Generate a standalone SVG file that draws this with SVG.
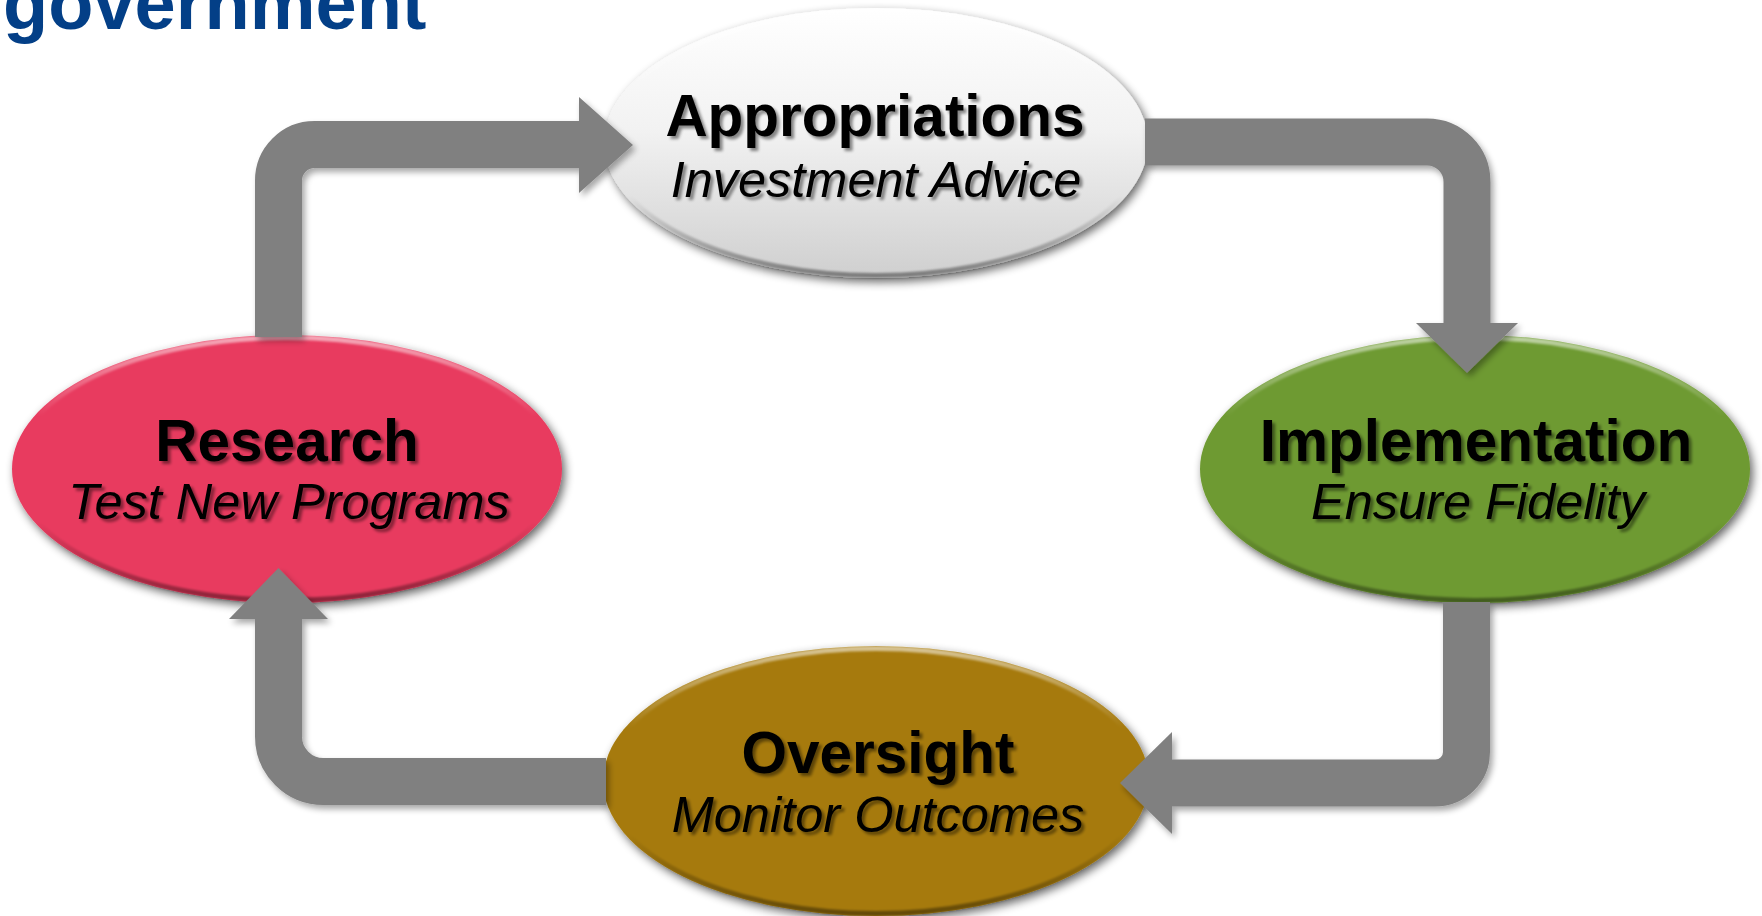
<svg xmlns="http://www.w3.org/2000/svg" width="1762" height="916" viewBox="0 0 1762 916">
<defs>
  <style>
    .title { font-family: "Liberation Sans", Arial, sans-serif; font-weight: bold; font-size: 74px; fill: #033F87; }
    .t1 { font-family: "Liberation Sans", Arial, sans-serif; font-weight: bold; font-size: 58.5px; text-anchor: middle; fill: #000; }
    .t2 { font-family: "Liberation Sans", Arial, sans-serif; font-style: italic; font-size: 50.5px; text-anchor: middle; fill: #000; }
    .bevel { fill: none; stroke: url(#bevelGrad); stroke-width: 5; }
    .shaft { fill: none; stroke: #808080; stroke-width: 47; }
    .head { fill: #808080; stroke: none; }
  </style>
  <linearGradient id="apGrad" x1="0" y1="0" x2="0" y2="1">
    <stop offset="0" stop-color="#ffffff"/>
    <stop offset="0.45" stop-color="#f2f2f2"/>
    <stop offset="1" stop-color="#cfcfcf"/>
  </linearGradient>
  <linearGradient id="bevelGrad" x1="0" y1="0" x2="0" y2="1">
    <stop offset="0" stop-color="#ffffff" stop-opacity="0.55"/>
    <stop offset="0.3" stop-color="#ffffff" stop-opacity="0"/>
    <stop offset="0.7" stop-color="#000000" stop-opacity="0"/>
    <stop offset="1" stop-color="#000000" stop-opacity="0.4"/>
  </linearGradient>
  <filter id="nodeShadow" x="-10%" y="-15%" width="125%" height="135%">
    <feGaussianBlur in="SourceAlpha" stdDeviation="5"/>
    <feOffset dx="3" dy="4"/>
    <feComponentTransfer><feFuncA type="linear" slope="0.6"/></feComponentTransfer>
    <feMerge><feMergeNode/><feMergeNode in="SourceGraphic"/></feMerge>
  </filter>
  <filter id="bevelBlur" x="-5%" y="-5%" width="110%" height="110%">
    <feGaussianBlur stdDeviation="1"/>
  </filter>
  <filter id="txtShadow" x="-5%" y="-30%" width="115%" height="170%">
    <feGaussianBlur in="SourceAlpha" stdDeviation="1.5"/>
    <feOffset dx="3" dy="3"/>
    <feComponentTransfer><feFuncA type="linear" slope="0.45"/></feComponentTransfer>
    <feMerge><feMergeNode/><feMergeNode in="SourceGraphic"/></feMerge>
  </filter>
  <filter id="connShadow" x="-10%" y="-10%" width="125%" height="125%">
    <feGaussianBlur in="SourceAlpha" stdDeviation="3"/>
    <feOffset dx="3" dy="4"/>
    <feComponentTransfer><feFuncA type="linear" slope="0.35"/></feComponentTransfer>
    <feMerge><feMergeNode/><feMergeNode in="SourceGraphic"/></feMerge>
  </filter>
</defs>

<rect width="1762" height="916" fill="#ffffff"/>
<text class="title" x="3" y="29">government</text>

<g id="node-appropriations">
  <ellipse cx="876" cy="143" rx="272" ry="135" fill="url(#apGrad)" filter="url(#nodeShadow)"/>
  <ellipse class="bevel" cx="876" cy="143" rx="269.5" ry="132.5" filter="url(#bevelBlur)"/>
  <g filter="url(#txtShadow)">
    <text class="t1" x="875" y="136">Appropriations</text>
    <text class="t2" x="876" y="197">Investment Advice</text>
  </g>
</g>

<g id="node-research">
  <ellipse cx="287" cy="469" rx="275" ry="134" fill="#E83A5E" filter="url(#nodeShadow)"/>
  <ellipse class="bevel" cx="287" cy="469" rx="272.5" ry="131.5" filter="url(#bevelBlur)"/>
  <g filter="url(#txtShadow)">
    <text class="t1" x="287" y="461">Research</text>
    <text class="t2" x="289" y="519">Test New Programs</text>
  </g>
</g>

<g id="node-implementation">
  <ellipse cx="1475" cy="469" rx="275" ry="134" fill="#6E9A30" filter="url(#nodeShadow)"/>
  <ellipse class="bevel" cx="1475" cy="469" rx="272.5" ry="131.5" filter="url(#bevelBlur)"/>
  <g filter="url(#txtShadow)">
    <text class="t1" x="1476" y="461">Implementation</text>
    <text class="t2" x="1478" y="519">Ensure Fidelity</text>
  </g>
</g>

<g id="node-oversight">
  <ellipse cx="876" cy="781" rx="273" ry="135" fill="#A67A0A" filter="url(#nodeShadow)"/>
  <ellipse class="bevel" cx="876" cy="781" rx="270.5" ry="132.5" filter="url(#bevelBlur)"/>
  <g filter="url(#txtShadow)">
    <text class="t1" x="878" y="773">Oversight</text>
    <text class="t2" x="878" y="832">Monitor Outcomes</text>
  </g>
</g>

<g id="connectors" filter="url(#connShadow)">
  <g id="research-to-appropriations">
    <path class="shaft" d="M 278.5 337 V 180.5 A 36 36 0 0 1 314.5 144.5 H 581"/>
    <polygon class="head" points="579,97 633,145 579,193"/>
  </g>
  <g id="appropriations-to-implementation">
    <path class="shaft" d="M 1145 142 H 1427 A 40 40 0 0 1 1467 182 V 325"/>
    <polygon class="head" points="1416,323 1518,323 1467,373"/>
  </g>
  <g id="implementation-to-oversight">
    <path class="shaft" d="M 1466.5 602 V 752 A 31 31 0 0 1 1435.5 783 H 1170"/>
    <polygon class="head" points="1172,732 1172,834 1120,783"/>
  </g>
  <g id="oversight-to-research">
    <path class="shaft" d="M 606 781.5 H 323.5 A 45 45 0 0 1 278.5 736.5 V 617"/>
    <polygon class="head" points="229,619 328,619 278.5,568"/>
  </g>
</g>
</svg>
